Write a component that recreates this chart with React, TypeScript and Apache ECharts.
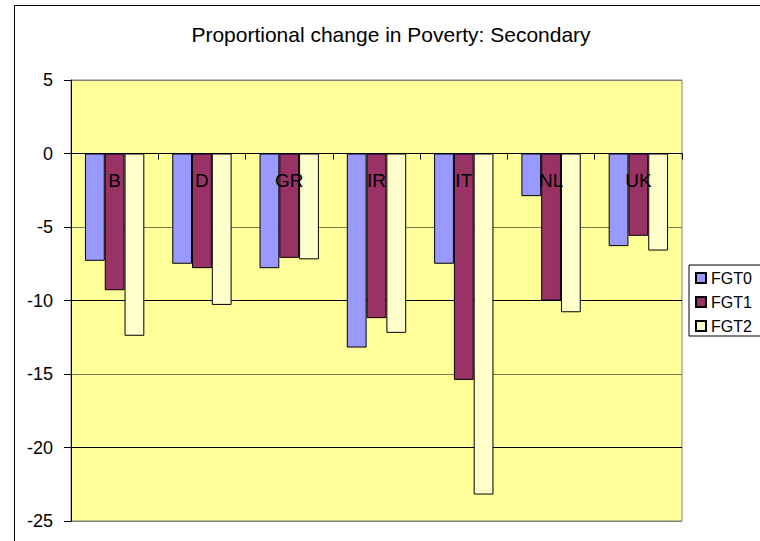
import React, { useEffect, useRef } from "react";
import * as echarts from "echarts";

const categories = ["B", "D", "GR", "IR", "IT", "NL", "UK"];
const seriesNames = ["FGT0", "FGT1", "FGT2"];
const fgt0 = [-7.3, -7.5, -7.8, -13.2, -7.5, -2.9, -6.3];
const fgt1 = [-9.3, -7.8, -7.1, -11.2, -15.4, -10.0, -5.6];
const fgt2 = [-12.4, -10.3, -7.2, -12.2, -23.2, -10.8, -6.6];
const seriesColors = ["#9999FF", "#993366", "#FFFFCC"];
const yMin = -25;
const yMax = 5;
const yStep = 5;
const titleText = "Proportional change in Poverty: Secondary";

const FONT = "'Liberation Sans', Arial, sans-serif";

const GRID_TOP = 80;
const GRID_BOTTOM = 20;
const CHART_H = 541;

export default function App() {
  const ref = useRef<HTMLDivElement>(null);
  useEffect(() => {
    if (!ref.current) return;
    const chart = echarts.init(ref.current, undefined, { renderer: "svg" });
    const values = [fgt0, fgt1, fgt2];
    const plotH = CHART_H - GRID_TOP - GRID_BOTTOM;
    // distance from the bottom of the plot up to the zero line
    const zeroFromBottom = (plotH * (0 - yMin)) / (yMax - yMin);
    chart.setOption({
      animation: false,
      backgroundColor: "#ffffff",
      title: {
        text: titleText,
        left: 391,
        top: 24,
        textAlign: "center",
        padding: 0,
        textStyle: { fontFamily: FONT, fontSize: 21, fontWeight: "normal", color: "#000" },
      },
      graphic: [
        {
          type: "rect",
          shape: { x: 14.5, y: 5.5, width: 800, height: 600 },
          style: { fill: "none", stroke: "#000", lineWidth: 1 },
          silent: true,
        },
      ],
      legend: {
        orient: "vertical",
        left: 689,
        top: 265,
        padding: [5, 10, 2, 6],
        itemWidth: 10,
        itemHeight: 10,
        itemGap: 8,
        itemTextGap: 7,
        backgroundColor: "#ffffff",
        borderColor: "#000",
        borderWidth: 1,
        icon: "rect",
        data: seriesNames,
        textStyle: { fontFamily: FONT, fontSize: 16, color: "#000" },
      },
      grid: {
        left: 71,
        right: 78,
        top: GRID_TOP,
        bottom: GRID_BOTTOM,
        show: true,
        backgroundColor: "#FFFF99",
        borderColor: "#808080",
        borderWidth: 1,
      },
      xAxis: {
        type: "category",
        data: categories,
        position: "bottom",
        offset: -zeroFromBottom,
        axisLine: { onZero: false, lineStyle: { color: "#000", width: 1 } },
        axisTick: { show: true, length: 6, lineStyle: { color: "#000" } },
        axisLabel: { margin: 17, fontFamily: FONT, fontSize: 19, color: "#000" },
        splitLine: { show: false },
        z: 5,
      },
      yAxis: {
        type: "value",
        min: yMin,
        max: yMax,
        interval: yStep,
        axisLine: { show: true, lineStyle: { color: "#000", width: 1 } },
        axisTick: { show: true, length: 7, lineStyle: { color: "#000" } },
        axisLabel: { margin: 18, fontFamily: FONT, fontSize: 18, color: "#000" },
        splitLine: {
          show: true,
          lineStyle: {
            color: ["#808080", "#000000", "#7a7a50", "#000000", "#7a7a50", "#000000", "#808080"],
            width: 1,
          },
        },
      },
      series: seriesNames.map((name, i) => ({
        name,
        type: "bar",
        data: values[i],
        barGap: "0%",
        barCategoryGap: "32%",
        itemStyle: { color: seriesColors[i], borderColor: "#000", borderWidth: 1 },
      })),
    });
    return () => chart.dispose();
  }, []);
  return (
    <div
      ref={ref}
      style={{ position: "fixed", left: 0, top: 0, width: 760, height: 541 }}
    />
  );
}
